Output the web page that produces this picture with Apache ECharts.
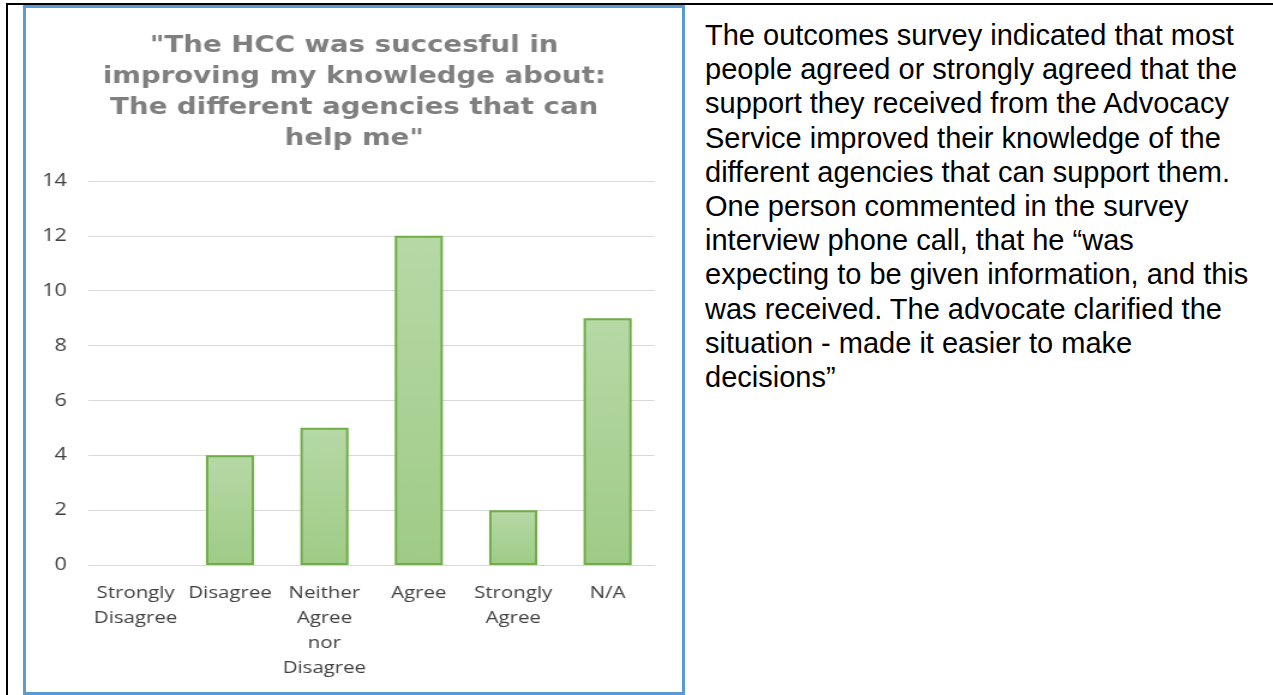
<!DOCTYPE html>
<html>
<head>
<meta charset="utf-8">
<script src="https://cdn.jsdelivr.net/npm/echarts@6/dist/echarts.min.js"></script>
<style>
  html, body { margin: 0; padding: 0; background: #fff; }
  body { width: 1273px; height: 695px; position: relative; overflow: hidden; }
  #topline { position: absolute; left: 6px; top: 3px; width: 1267px; height: 2px; background: #000; }
  #leftline { position: absolute; left: 6px; top: 3px; width: 2px; height: 692px; background: #000; }
  #frame { position: absolute; left: 23px; top: 5px; width: 656px; height: 684px; border: 3px solid #5b9bd5; background: #fff; }
  #main { position: absolute; left: 0; top: 0; width: 547px; height: 684px; transform: scaleX(1.2); transform-origin: 0 0; }
  #note { position: absolute; left: 705px; top: 18px; font-family: "Liberation Sans", Arial, sans-serif; font-size: 29px; line-height: 34.2px; color: #000; white-space: nowrap; }
</style>
</head>
<body>
<div id="topline"></div>
<div id="leftline"></div>
<div id="frame"><div id="main"></div></div>
<div id="note"></div>
<script>
// survey answers
var categories = ['Strongly\nDisagree', 'Disagree', 'Neither\nAgree\nnor\nDisagree', 'Agree', 'Strongly\nAgree', 'N/A'];
var counts = [0, 4, 5, 12, 2, 9];
var yTicks = [0, 2, 4, 6, 8, 10, 12, 14];
var titleLines = ['"The HCC was succesful in', 'improving my knowledge about:', 'The different agencies that can', 'help me"'];
var noteLines = [
  'The outcomes survey indicated that most',
  'people agreed or strongly agreed that the',
  'support they received from the Advocacy',
  'Service improved their knowledge of the',
  'different agencies that can support them.',
  'One person commented in the survey',
  'interview phone call, that he \u201cwas',
  'expecting to be given information, and this',
  'was received. The advocate clarified the',
  'situation - made it easier to make',
  'decisions\u201d'
];

document.getElementById('note').innerHTML = noteLines.join('<br>');

var chart = echarts.init(document.getElementById('main'), null, { renderer: 'canvas' });

var barData = counts.map(function (v) {
  // a zero bar should not leave a green line on the axis
  return v === 0 ? { value: v, itemStyle: { borderWidth: 0 } } : v;
});

chart.setOption({
  animation: false,
  title: {
    text: titleLines.join('\n'),
    left: 'center',
    top: 18,
    textStyle: {
      fontFamily: 'DejaVu Sans',
      fontWeight: 'bold',
      fontSize: 23,
      lineHeight: 31,
      color: '#7f7f7f'
    }
  },
  grid: {
    left: 52,
    right: 23,
    top: 173,
    bottom: 127
  },
  xAxis: {
    type: 'category',
    data: categories,
    axisTick: { show: false },
    axisLine: { lineStyle: { color: '#d9d9d9', width: 1 } },
    axisLabel: {
      color: '#404040',
      fontFamily: 'Open Sans',
      fontSize: 17,
      lineHeight: 25,
      margin: 16,
      interval: 0
    }
  },
  yAxis: {
    type: 'value',
    min: yTicks[0],
    max: yTicks[yTicks.length - 1],
    interval: 2,
    axisLine: { show: false },
    axisTick: { show: false },
    splitLine: { lineStyle: { color: '#d9d9d9', width: 1 } },
    axisLabel: {
      color: '#404040',
      fontFamily: 'Open Sans',
      fontSize: 18,
      margin: 18
    }
  },
  series: [{
    type: 'bar',
    data: barData,
    barWidth: '51%',
    itemStyle: {
      color: new echarts.graphic.LinearGradient(0, 0, 0, 1, [
        { offset: 0, color: '#b6d9a6' },
        { offset: 1, color: '#9fcb87' }
      ]),
      borderColor: '#70ad47',
      borderWidth: 2
    }
  }]
});
</script>
</body>
</html>
